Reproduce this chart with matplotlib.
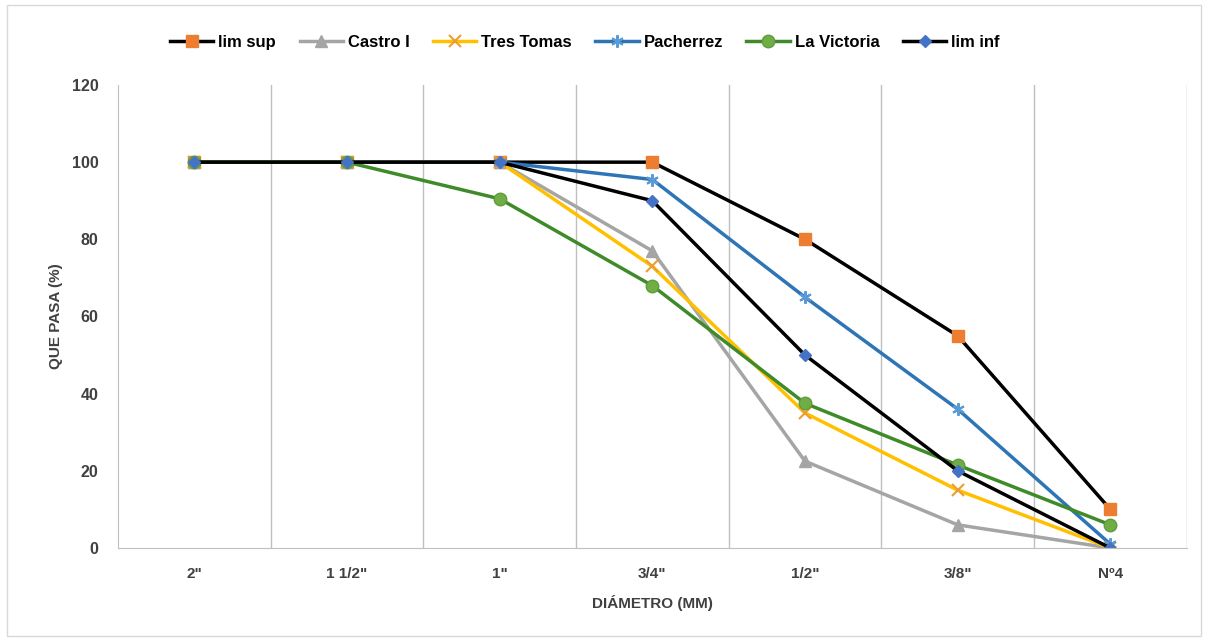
import matplotlib
matplotlib.use('Agg')
import matplotlib.pyplot as plt
from matplotlib import font_manager

# ── Data ─────────────────────────────────────────────────────────────
categories = ['2"', '1 1/2"', '1"', '3/4"', '1/2"', '3/8"', 'Nº4']

lim_sup     = [100, 100, 100, 100, 80, 55, 10]
castro_i    = [100, 100, 100, 77, 22.5, 6, 0]
tres_tomas  = [100, 100, 100, 73, 35, 15, 0]
pacherrez   = [100, 100, 100, 95.5, 65, 36, 1]
la_victoria = [100, 100, 90.5, 68, 37.5, 21.5, 6]
lim_inf     = [100, 100, 100, 90, 50, 20, 0]

# ── Style ────────────────────────────────────────────────────────────
names = {f.name for f in font_manager.fontManager.ttflist}
fam = ['Liberation Sans Narrow', 'DejaVu Sans'] if 'Liberation Sans Narrow' in names \
    else ['Liberation Sans', 'DejaVu Sans']
plt.rcParams['font.family'] = fam
plt.rcParams['font.weight'] = 'bold'

series = [
    ("lim sup",     lim_sup,     dict(color='black',   marker='s', mfc='#ED7D31', mec='#ED7D31', ms=8.5)),
    ("Castro I",    castro_i,    dict(color='#A5A5A5', marker='^', mfc='#A5A5A5', mec='#A5A5A5', ms=8)),
    ("Tres Tomas",  tres_tomas,  dict(color='#FFC000', marker='x', mfc='#FFC000', mec='#ED9D31', ms=8, mew=1.5)),
    ("Pacherrez",   pacherrez,   dict(color='#2E75B6', marker=(6, 2, 0), mfc='#5B9BD5', mec='#5B9BD5', ms=9, mew=1.5)),
    ("La Victoria", la_victoria, dict(color='#3F8B2A', marker='o', mfc='#70AD47', mec='#5E9E3A', ms=9)),
    ("lim inf",     lim_inf,     dict(color='black',   marker='D', mfc='#4472C4', mec='#4472C4', ms=6.5)),
]

fig = plt.figure(figsize=(12.06, 6.39), dpi=100)
ax = fig.add_axes([0.0978, 0.1424, 0.8862, 0.7246])

x = list(range(len(categories)))
for label, vals, st in series:
    ax.plot(x, vals, lw=2.5, label=label, **st)

ax.set_xlim(-0.5, len(categories) - 0.5)
ax.set_ylim(0, 120)
ax.set_yticks(range(0, 121, 20))
ax.set_xticks(x)
ax.set_xticklabels(categories, fontsize=11, fontweight='bold', color='#404040')
ax.tick_params(axis='y', labelsize=11.5, colors='#404040', length=0, pad=14)
ax.tick_params(axis='x', length=0, pad=14)
for t in ax.get_yticklabels():
    t.set_fontweight('bold')

# vertical separators between categories
for b in range(1, len(categories) + 1):
    ax.axvline(b - 0.5, color='#BFBFBF', lw=1.0, zorder=0)

for s in ('top', 'right'):
    ax.spines[s].set_visible(False)
ax.spines['left'].set_color('#BFBFBF')
ax.spines['bottom'].set_color('#BFBFBF')

ax.set_ylabel('QUE PASA (%)', fontsize=11, fontweight='bold', color='#404040', labelpad=6)
ax.set_xlabel('DIÁMETRO (MM)', fontsize=11, fontweight='bold', color='#404040', labelpad=10)

leg = fig.legend(loc='center', bbox_to_anchor=(0.485, 0.934), ncol=6, frameon=False,
                 fontsize=12, handlelength=2.6, columnspacing=1.4, handletextpad=0.3)
for t in leg.get_texts():
    t.set_fontweight('bold')

# outer chart border
fig.patches.append(plt.Rectangle((0.006, 0.004), 0.99, 0.988, transform=fig.transFigure,
                                 fill=False, edgecolor='#D9D9D9', lw=1.0))

fig.savefig('out.png', dpi=100)
